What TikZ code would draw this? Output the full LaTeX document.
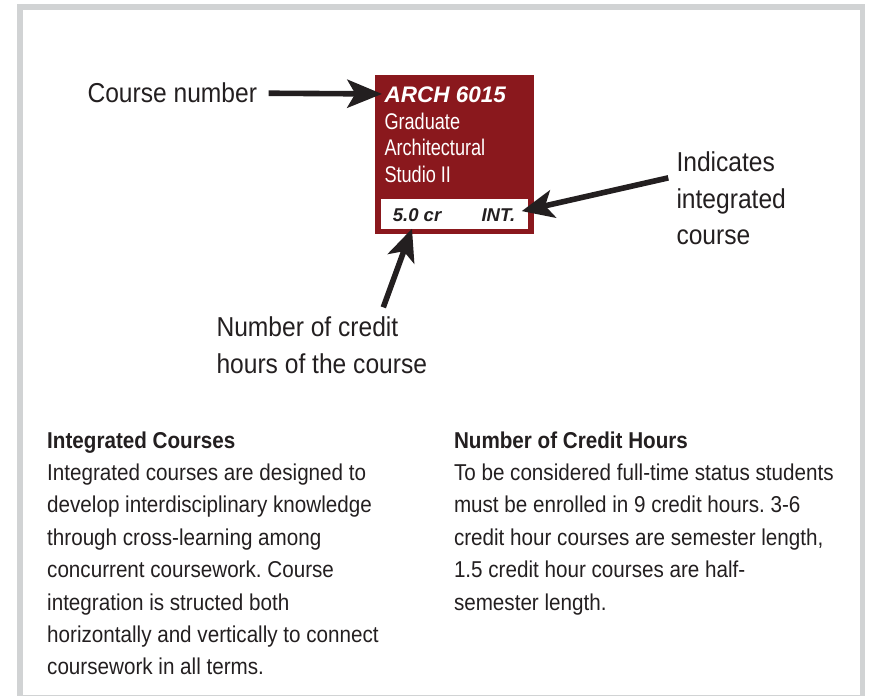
\documentclass[tikz,border=0pt]{standalone}
\usepackage{fontspec}
\usetikzlibrary{arrows.meta,positioning,calc}
\newfontfamily\condfont{Liberation Sans}[FakeStretch=0.9]
\newfontfamily\narrowfont{Liberation Sans}[FakeStretch=0.8]
\newfontfamily\widefont{Liberation Sans}
\definecolor{framegray}{RGB}{209,211,212}
\definecolor{cardred}{RGB}{138,24,29}
\definecolor{inkgray}{RGB}{35,31,32}
\frenchspacing

\tikzset{every picture/.style={line width=0.75pt}}
\tikzset{
  callout/.style={font=\condfont\fontsize{20.5pt}{27.5pt}\selectfont, text=inkgray, align=left, inner sep=0pt},
  bodytext/.style={font=\condfont\fontsize{17.2pt}{24.3pt}\selectfont, text=inkgray, align=left, inner sep=0pt},
  cardtext/.style={font=\narrowfont\fontsize{17pt}{20pt}\selectfont, text=white, align=left, inner sep=0pt},
  tagtext/.style={font=\widefont\bfseries\itshape\fontsize{13.9pt}{16pt}\selectfont, text=inkgray, inner sep=0pt},
  pointer/.style={draw=inkgray, line width=4.2pt, -{Stealth[length=#1, width=21pt, inset=6pt]}},
  pointer/.default=23pt
}

\begin{document}
\begin{tikzpicture}[x=0.75pt,y=0.75pt,yscale=-1,xscale=1]
	\useasboundingbox (0,0) rectangle (869,696);

	%Frame
	\draw [draw=framegray, line width=4.1pt] (20.2,7) rectangle (862.7,698);

	%Course card
	\node [fill=cardred, minimum width=119.25pt, minimum height=119.25pt, inner sep=0pt] (card) at (454.5,154.5) {};
	\node [fill=white, minimum width=110.25pt, minimum height=22.5pt, inner sep=0pt] (band) at (454.5,214) {};

	% Text Node
	\node [anchor=base west, inner sep=0pt, text=white, font=\widefont\bfseries\itshape\fontsize{16.9pt}{20pt}\selectfont] (code) at (384,102.7) {ARCH 6015};
	% Text Node (base = last line)
	\node [cardtext, anchor=base west] (title) at (384,182.6) {Graduate\\Architectural\\Studio II};
	% Text Node
	\node [tagtext, anchor=base west] (credits) at (392.3,221) {5.0 cr};
	% Text Node
	\node [tagtext, anchor=base east] (intmark) at (515.7,221) {INT.};

	% Text Node
	\node [callout, anchor=base west] (cnum) at (87,102) {Course number};
	% Text Node
	\node [callout, anchor=base west] (crlabel) at (216,373.3) {Number of credit\\hours of the course};
	% Text Node
	\node [callout, anchor=base west] (intlabel) at (676,244.8) {Indicates\\integrated\\course};

	%Pointers
	\draw [pointer=26pt] ($(cnum.east)+(11,1)$) -- ($(code.west)+(-2,-1)$);
	\draw [pointer=24pt] ($(crlabel.north)+(61.5,-9)$) -- ($(credits.south)+(-5,7)$);
	\draw [pointer=24pt] ($(intlabel.north west)+(-7.7,26.7)$) -- ($(intmark.east)+(6,-3.5)$);

	% Text Node
	\node [bodytext, anchor=base west] (intcourses) at (46.7,674.8) {\textbf{Integrated Courses}\\Integrated courses are designed to\\develop interdisciplinary knowledge\\through cross-learning among\\concurrent coursework. Course\\integration is structed both\\horizontally and vertically to connect\\coursework in all terms.};
	% Text Node
	\node [bodytext, anchor=base west] (crhours) at (453.5,610) {\textbf{Number of Credit Hours}\\To be considered full-time status students\\must be enrolled in 9 credit hours. 3-6\\credit hour courses are semester length,\\1.5 credit hour courses are half-\\semester length.};

\end{tikzpicture}
\end{document}
